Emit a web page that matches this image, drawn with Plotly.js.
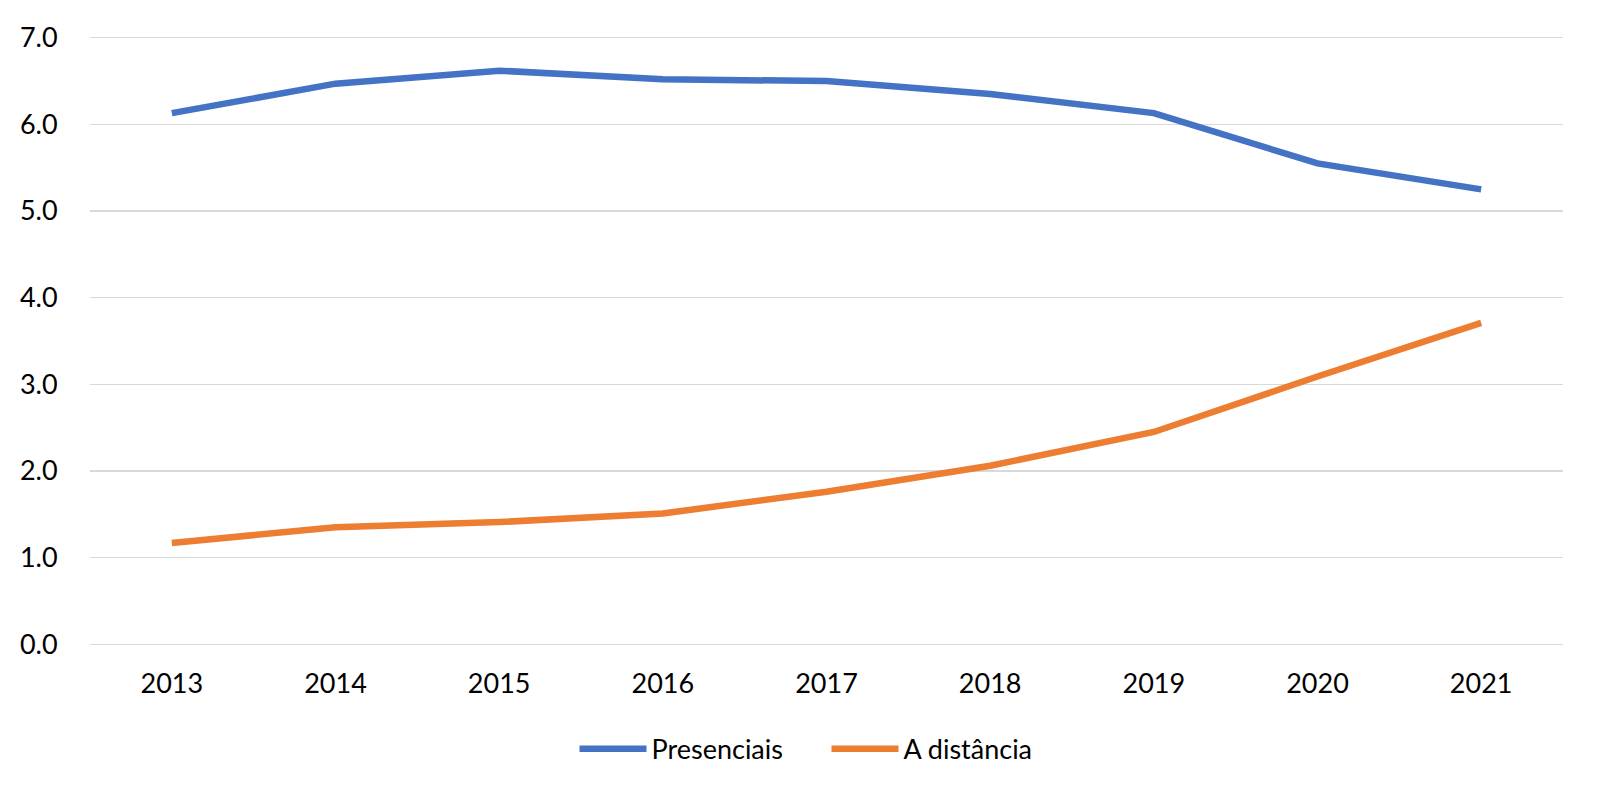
<!DOCTYPE html>
<html>
<head>
<meta charset="utf-8">
<script src="https://cdn.plot.ly/plotly-3.0.1.min.js"></script>
<style>html,body{margin:0;padding:0;background:#fff;}#chart{width:1600px;height:806px;}</style>
</head>
<body>
<div id="chart"></div>
<script>
const years = ['2013','2014','2015','2016','2017','2018','2019','2020','2021'];
const presenciais = [6.13, 6.47, 6.62, 6.52, 6.50, 6.35, 6.13, 5.55, 5.25];
const aDistancia = [1.17, 1.35, 1.41, 1.51, 1.76, 2.06, 2.45, 3.09, 3.71];
const yTicks = [0, 1, 2, 3, 4, 5, 6, 7];

const font = 'Lato, "Open Sans", sans-serif';
const traces = [
  {x: years, y: presenciais, name: 'Presenciais', type: 'scatter', mode: 'lines',
   line: {color: '#4472C4', width: 6.5}},
  {x: years, y: aDistancia, name: 'A distância', type: 'scatter', mode: 'lines',
   line: {color: '#ED7D31', width: 6.5}}
];
const layout = {
  width: 1600, height: 806,
  margin: {l: 90, r: 37, t: 36, b: 160},
  paper_bgcolor: '#fff', plot_bgcolor: '#fff',
  font: {family: font, size: 27, color: '#000'},
  showlegend: true,
  legend: {orientation: 'h', x: 0.5, xanchor: 'center', y: -0.169, yanchor: 'middle',
           font: {family: font, size: 27, color: '#000'}, itemwidth: 67,
           entrywidth: 170, entrywidthmode: 'pixels', traceorder: 'normal'},
  xaxis: {type: 'category', range: [-0.5, years.length - 0.5],
          showgrid: false, zeroline: false, showline: false,
          ticks: 'outside', ticklen: 14, tickcolor: 'rgba(0,0,0,0)',
          tickfont: {family: font, size: 27, color: '#000'}},
  yaxis: {range: [-0.02, 7.02], tickvals: yTicks, ticktext: yTicks.map(v => v.toFixed(1)),
          showgrid: true, gridcolor: '#D9D9D9', gridwidth: 1.5,
          zeroline: true, zerolinecolor: '#D9D9D9', zerolinewidth: 1.5, showline: false,
          ticks: 'outside', ticklen: 26, tickcolor: 'rgba(0,0,0,0)',
          tickfont: {family: font, size: 27, color: '#000'}}
};
Plotly.newPlot('chart', traces, layout, {displayModeBar: false, staticPlot: true});
</script>
</body>
</html>
